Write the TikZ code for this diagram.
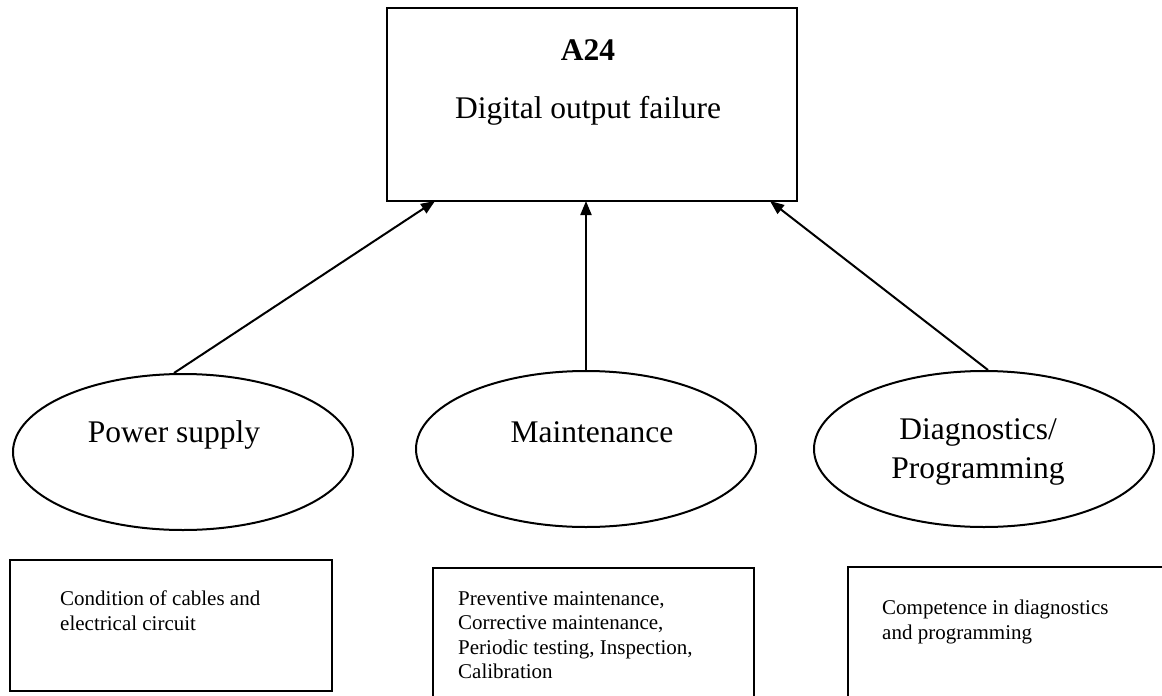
\documentclass[tikz,border=0pt]{standalone}
\usepackage{fontspec}
\setmainfont{Liberation Serif}
\usetikzlibrary{shapes.geometric,arrows.meta,calc}

\tikzset{
  frame/.style={draw=black, line width=2pt},
  cause/.style={ellipse, draw=black, line width=2pt, minimum width=340pt, minimum height=156pt, inner sep=0pt},
  bigtext/.style={font=\fontsize{31.5}{38}\selectfont, inner sep=0pt},
  smalltext/.style={font=\fontsize{21}{24.5}\selectfont, inner sep=0pt, align=left, anchor=north west},
  link/.style={line width=2pt, -{Triangle[length=14pt,width=11pt]}},
}

\begin{document}
\begin{tikzpicture}[x=1pt, y=-1pt]
  \useasboundingbox (0,0) rectangle (1162,696);
  \clip (0,0) rectangle (1162,696);

  % event box
  \draw[frame] (387,8) rectangle (797,201);
  \coordinate (evL) at (435,201);
  \coordinate (evM) at (586,201);
  \coordinate (evR) at (770,201);
  \node[bigtext, anchor=base, font=\fontsize{31.5}{38}\selectfont\bfseries] (code) at (588,60) {A24};
  \node[bigtext, anchor=base] (event) at (588,118) {Digital output failure};

  % causes
  \node[cause] (ps) at (183,452) {};
  \node[cause] (mt) at (586,449) {};
  \node[cause] (dg) at (984,449) {};
  \node[bigtext, anchor=base] (pslbl) at (174,442) {Power supply};
  \node[bigtext, anchor=base] (mtlbl) at (592,442) {Maintenance};
  \node[bigtext, anchor=base, align=center] (dglbl) at (978,439) {Diagnostics/};
  \node[bigtext, anchor=base] (dglbl2) at (978,478) {Programming};

  \draw[link] (ps.north) ++(-9,0) -- (evL);
  \draw[link] (mt.north) -- (evM);
  \draw[link] (dg.north) ++(4,0) -- (evR);

  % factor boxes
  \draw[frame] (10,560) rectangle (332,691);
  \node[smalltext] (f1) at (60,591) {Condition of cables and\\electrical circuit};

  \draw[frame] (433,568) rectangle (754,710);
  \node[smalltext] (f2) at (458,591) {Preventive maintenance,\\Corrective maintenance,\\Periodic testing, Inspection,\\Calibration};

  \draw[frame] (848,567) rectangle (1180,710);
  \node[smalltext] (f3) at (882,600) {Competence in diagnostics\\and programming};
\end{tikzpicture}
\end{document}
